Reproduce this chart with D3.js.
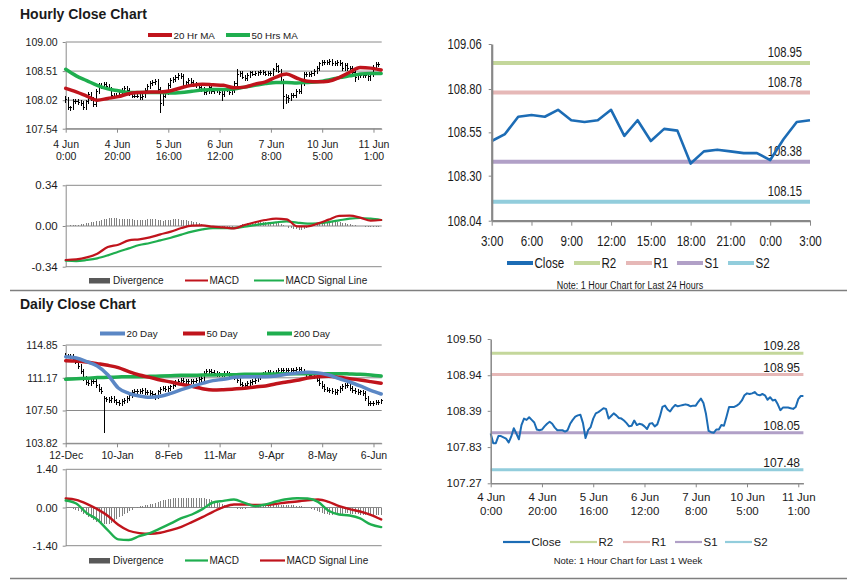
<!DOCTYPE html>
<html><head><meta charset="utf-8">
<script src="https://cdn.jsdelivr.net/npm/d3@7"></script>
<style>
body{margin:0;background:#fff;}
svg{display:block;font-family:"Liberation Sans",Arial,sans-serif;}
</style></head><body>
<svg id="c" width="847" height="583"></svg>
<script>
// ---------------- DATA ----------------
const hourlyTickIdx = [0,20,40,60,80,100,120];
const hourlyTickTop = ["4 Jun","4 Jun","5 Jun","6 Jun","7 Jun","10 Jun","11 Jun"];
const hourlyTickBottom = ["0:00","20:00","16:00","12:00","8:00","5:00","1:00"];
const hourlyYTicks = [107.54,108.02,108.51,109.00];
const hourlyMacdTicks = [-0.34,0.00,0.34];

const hourlyClose = [108.04,107.89,107.89,108.00,108.00,107.98,107.96,107.90,107.99,108.12,
108.04,107.95,108.17,108.27,108.25,108.29,108.25,108.21,108.10,108.09,
108.10,108.15,108.19,108.22,108.19,108.13,108.09,108.09,108.09,108.07,
108.09,108.19,108.25,108.30,108.32,108.33,108.20,107.97,108.09,108.14,
108.27,108.35,108.37,108.40,108.43,108.42,108.27,108.31,108.35,108.32,
108.28,108.27,108.24,108.20,108.15,108.16,108.24,108.17,108.19,108.18,
108.15,108.11,108.19,108.20,108.15,108.18,108.30,108.45,108.47,108.41,
108.38,108.44,108.48,108.46,108.47,108.48,108.49,108.48,108.46,108.47,
108.47,108.53,108.58,108.51,108.34,108.08,108.06,108.05,108.10,108.10,
108.17,108.16,108.30,108.45,108.45,108.45,108.47,108.50,108.55,108.63,
108.66,108.65,108.66,108.68,108.64,108.63,108.65,108.63,108.56,108.60,
108.55,108.56,108.49,108.40,108.44,108.44,108.44,108.43,108.42,108.45,
108.57,108.62,108.62];
const hourlyHigh = [108.09,108.08,107.93,108.04,108.04,108.04,108.02,108.00,108.03,108.16,
108.16,108.08,108.21,108.31,108.31,108.33,108.33,108.29,108.25,108.14,
108.14,108.19,108.23,108.26,108.26,108.23,108.17,108.13,108.13,108.13,
108.13,108.23,108.29,108.34,108.36,108.37,108.37,108.24,108.13,108.18,
108.31,108.39,108.41,108.44,108.47,108.47,108.46,108.35,108.39,108.39,
108.36,108.32,108.31,108.28,108.24,108.20,108.28,108.28,108.23,108.23,
108.22,108.19,108.23,108.24,108.24,108.22,108.34,108.55,108.51,108.51,
108.45,108.48,108.52,108.52,108.51,108.52,108.53,108.53,108.52,108.51,
108.51,108.57,108.64,108.62,108.55,108.38,108.12,108.10,108.14,108.14,
108.21,108.21,108.34,108.49,108.49,108.49,108.51,108.54,108.59,108.67,
108.70,108.70,108.70,108.72,108.72,108.68,108.69,108.69,108.67,108.64,
108.64,108.60,108.60,108.53,108.48,108.48,108.48,108.48,108.47,108.49,
108.61,108.66,108.66];
const hourlyLow = [107.98,107.85,107.84,107.85,107.96,107.94,107.92,107.85,107.86,107.95,
108.00,107.91,107.91,108.13,108.21,108.21,108.21,108.17,108.06,108.05,
108.05,108.06,108.11,108.15,108.15,108.09,108.05,108.05,108.05,108.03,
108.03,108.05,108.15,108.21,108.26,108.28,108.16,107.80,107.93,108.05,
108.10,108.23,108.31,108.33,108.36,108.38,108.23,108.23,108.27,108.28,
108.24,108.23,108.20,108.16,108.11,108.11,108.12,108.13,108.13,108.14,
108.11,108.00,108.07,108.15,108.11,108.11,108.14,108.26,108.41,108.37,
108.34,108.34,108.40,108.42,108.42,108.43,108.44,108.44,108.42,108.42,
108.43,108.43,108.49,108.47,108.30,107.88,107.96,107.98,108.01,108.06,
108.06,108.12,108.12,108.26,108.41,108.41,108.41,108.43,108.46,108.51,
108.59,108.61,108.61,108.62,108.60,108.59,108.59,108.59,108.52,108.52,
108.51,108.51,108.45,108.33,108.36,108.40,108.40,108.39,108.34,108.35,
108.41,108.53,108.58];
// moving averages / MACD sampled every 4.1 bars
const hourlyMA20 = [108.22,108.16,108.09,108.02,108.05,108.08,108.13,108.15,108.16,108.16,108.18,108.23,108.27,108.29,108.28,108.27,108.23,108.24,108.29,108.33,108.41,108.46,108.39,108.34,108.33,108.34,108.40,108.49,108.57,108.56,108.53];
const hourlyMA50 = [108.54,108.43,108.35,108.27,108.21,108.18,108.15,108.15,108.15,108.15,108.14,108.15,108.17,108.19,108.20,108.20,108.21,108.24,108.27,108.30,108.32,108.32,108.31,108.32,108.33,108.36,108.40,108.43,108.46,108.47,108.47];
const hourlyMACD = [-0.284,-0.279,-0.262,-0.231,-0.176,-0.156,-0.120,-0.111,-0.095,-0.070,-0.047,-0.017,0.003,0.006,-0.006,-0.011,-0.020,0.008,0.031,0.050,0.061,0.056,-0.003,-0.003,0.022,0.053,0.084,0.086,0.070,0.045,0.050];
const hourlySignal = [-0.290,-0.293,-0.284,-0.270,-0.245,-0.215,-0.187,-0.159,-0.142,-0.120,-0.098,-0.072,-0.047,-0.028,-0.017,-0.017,-0.017,-0.006,0.008,0.020,0.031,0.039,0.028,0.020,0.022,0.033,0.047,0.061,0.067,0.061,0.050];
const hourlyDivergence = [0.000,0.003,0.005,0.006,0.008,0.010,
0.014,0.018,0.022,0.026,0.030, 0.035,0.040,0.045,0.050,0.055, 0.060,0.063,0.064,0.064,0.063,
0.062,0.062,0.061,0.060,0.058, 0.056,0.054,0.052,0.050,0.048, 0.050,0.055,0.058,0.058,0.055,
0.050,0.046,0.045,0.047,0.050, 0.052,0.055,0.056,0.055,0.052, 0.050,0.046,0.042,0.038,0.034,
0.030,0.025,0.018,0.012,0.006, 0.002,0.000,-0.002,-0.004,-0.006, -0.008,-0.010,-0.012,-0.010,-0.006,
-0.002,0.004,0.010,0.016,0.020, 0.024,0.026,0.028,0.030,0.032, 0.034,0.036,0.036,0.035,0.033,
0.032,0.030,0.026,0.018,0.008, -0.004,-0.014,-0.020,-0.026,-0.028, -0.030,-0.030,-0.026,-0.018,-0.008,
0.002,0.010,0.016,0.022,0.026, 0.030,0.032,0.034,0.034,0.033, 0.032,0.030,0.028,0.024,0.020,
0.016,0.012,0.008,0.004,0.000, -0.004,-0.008,-0.010,-0.012,-0.012, -0.010,-0.008];

const dayTickLabels = ["3:00","6:00","9:00","12:00","15:00","18:00","21:00","0:00","3:00"];
const dayYTicks = [108.04,108.30,108.55,108.80,109.06];
const dayClose = [108.50,108.54,108.64,108.65,108.64,108.68,108.62,108.61,108.62,108.68,108.53,108.62,108.50,108.57,108.56,108.37,108.44,108.45,108.44,108.43,108.43,108.39,108.51,108.61,108.62];
const dayLevelNames = ["R2","R1","S1","S2"];
const dayLevels = [108.95,108.78,108.38,108.15];

const weekTickTop = ["4 Jun","4 Jun","5 Jun","6 Jun","7 Jun","10 Jun","11 Jun"];
const weekTickBottom = ["0:00","20:00","16:00","12:00","8:00","5:00","1:00"];
const weekYTicks = [107.27,107.83,108.39,108.94,109.50];
const weekLevels = [109.28,108.95,108.05,107.48];

const dailyTickIdx = [0,20,40,60,80,100,120];
const dailyTickLabels = ["12-Dec","10-Jan","8-Feb","11-Mar","9-Apr","8-May","6-Jun"];
const dailyYTicks = [103.82,107.50,111.17,114.85];
const dailyMacdTicks = [-1.40,0.00,1.40];
const dailyClose = [113.61,113.61,113.54,113.24,112.94,112.42,111.86,111.11,110.62,110.55,
110.74,110.74,110.25,109.88,109.61,108.80,108.75,108.60,108.87,108.57,
108.38,108.31,108.49,108.64,108.83,109.13,109.50,109.61,109.61,109.65,
109.73,109.50,109.54,109.43,109.24,109.05,109.58,109.91,109.95,109.88,
109.99,110.14,110.36,110.66,110.77,110.85,110.81,110.74,110.74,110.74,
110.81,110.88,110.96,111.11,111.67,111.86,111.86,111.78,111.67,111.56,
111.48,111.48,111.67,111.60,111.48,111.37,111.22,110.85,110.47,110.32,
110.36,110.55,110.62,110.77,110.92,111.22,111.41,111.52,111.67,111.75,
111.67,111.56,111.75,111.97,112.04,112.04,112.01,111.97,112.04,112.04,
112.08,112.12,111.90,111.71,111.52,111.45,111.37,111.30,110.92,110.55,
110.17,109.88,109.80,109.73,109.61,109.54,109.69,109.95,110.17,110.36,
110.25,109.95,109.73,109.61,109.54,109.58,109.43,108.87,108.31,108.31,
108.34,108.38,108.45,108.57];
const dailyHigh = [113.90,113.86,113.86,113.79,113.49,113.19,112.67,112.11,111.36,110.87,
110.99,110.99,110.99,110.50,110.13,109.10,109.05,109.00,109.12,109.12,
108.82,108.63,108.74,108.89,109.08,109.38,109.75,109.86,109.86,109.90,
109.98,109.98,109.79,109.79,109.68,109.49,109.83,110.16,110.20,110.20,
110.24,110.39,110.61,110.91,111.02,111.10,111.10,111.06,110.99,110.99,
111.06,111.13,111.21,111.36,111.92,112.11,112.11,112.11,112.03,111.92,
111.81,111.73,111.92,111.92,111.85,111.73,111.62,111.47,111.10,110.72,
110.61,110.80,110.87,111.02,111.17,111.47,111.66,111.77,111.92,112.00,
112.00,111.92,112.00,112.22,112.29,112.29,112.29,112.26,112.29,112.29,
112.33,112.37,112.37,112.15,111.96,111.77,111.70,111.62,111.55,111.17,
110.80,110.42,110.13,110.05,109.98,109.86,109.94,110.20,110.42,110.61,
110.61,110.50,110.20,109.98,109.86,109.83,109.83,109.68,109.12,108.56,
108.59,108.63,108.70,108.82];
const dailyLow = [113.35,113.36,113.29,112.99,112.69,112.17,111.61,110.86,110.37,110.30,
110.30,110.49,110.00,109.63,109.36,104.94,108.50,108.35,108.35,108.32,
108.13,108.06,108.06,108.24,108.39,108.58,108.88,109.25,109.36,109.36,
109.40,109.25,109.25,109.18,108.99,108.68,108.80,109.33,109.66,109.63,
109.63,109.74,109.89,110.11,110.41,110.52,110.56,110.49,110.49,110.49,
110.49,110.56,110.63,110.71,110.86,111.42,111.61,111.53,111.42,111.31,
111.23,111.23,111.23,111.35,111.23,111.12,110.97,110.60,110.22,110.07,
110.07,110.11,110.30,110.37,110.52,110.67,110.97,111.16,111.27,111.42,
111.42,111.31,111.31,111.50,111.72,111.79,111.76,111.72,111.72,111.79,
111.79,111.83,111.65,111.46,111.27,111.20,111.12,111.05,110.67,110.30,
109.92,109.63,109.55,109.48,109.36,109.29,109.29,109.44,109.70,109.92,
110.00,109.70,109.48,109.36,109.29,109.29,109.18,108.62,108.06,108.06,
108.06,108.09,108.13,108.20];
const dailyMA20 = [113.54,113.39,112.98,112.49,111.52,110.03,109.43,109.13,108.98,109.09,109.43,109.84,110.21,110.55,110.85,111.00,111.22,111.30,111.30,111.30,111.37,111.56,111.71,111.78,111.71,111.48,111.07,110.70,110.25,109.76,109.35];
const dailyMA50 = [113.09,113.05,112.94,112.76,112.57,112.31,111.86,111.48,111.22,110.92,110.70,110.44,110.21,109.95,109.80,109.84,109.91,109.99,110.14,110.25,110.51,110.70,110.89,111.15,111.30,111.33,111.22,111.07,110.92,110.74,110.55];
const dailyMA200 = [111.00,111.07,111.11,111.19,111.22,111.26,111.30,111.30,111.33,111.37,111.41,111.45,111.45,111.48,111.48,111.52,111.52,111.56,111.56,111.60,111.60,111.63,111.63,111.63,111.63,111.63,111.63,111.60,111.56,111.48,111.37];
const dailyMACD = [0.256,0.146,-0.207,-0.438,-0.828,-1.168,-1.193,-1.047,-0.937,-0.767,-0.584,-0.390,-0.256,-0.061,0.183,0.243,0.292,0.170,0.049,0.110,0.219,0.304,0.341,0.329,0.207,-0.122,-0.256,-0.292,-0.402,-0.621,-0.718];
const dailySignal = [0.329,0.280,0.134,-0.061,-0.304,-0.633,-0.852,-0.937,-0.961,-0.925,-0.828,-0.706,-0.535,-0.353,-0.158,0.012,0.110,0.110,0.097,0.097,0.134,0.183,0.219,0.268,0.292,0.207,0.049,-0.061,-0.146,-0.268,-0.438];
const dailyDivergence = [0.00,-0.01,-0.02,-0.04,
-0.08,-0.13,-0.18,-0.24,-0.29, -0.34,-0.40,-0.46,-0.52,-0.57, -0.60,-0.62,-0.62,-0.60,-0.55,
-0.48,-0.42,-0.36,-0.30,-0.25, -0.20,-0.14,-0.08,-0.03,0.01, 0.04,0.06,0.08,0.10,0.12,
0.14,0.17,0.20,0.23,0.26, 0.28,0.30,0.32,0.33,0.34, 0.35,0.35,0.35,0.35,0.34,
0.34,0.34,0.35,0.36,0.35, 0.34,0.32,0.30,0.27,0.24, 0.20,0.16,0.12,0.08,0.04,
0.02,0.00,-0.02,-0.04,-0.05, -0.05,-0.04,-0.03,-0.02,0.00, 0.02,0.04,0.05,0.06,0.07,
0.08,0.09,0.10,0.10,0.10, 0.10,0.10,0.10,0.10,0.09, 0.08,0.07,0.06,0.04,0.02,
0.00,-0.02,-0.05,-0.08,-0.12, -0.16,-0.20,-0.23,-0.25,-0.26, -0.26,-0.25,-0.24,-0.23,-0.22,
-0.21,-0.21,-0.22,-0.23,-0.24, -0.25,-0.26,-0.27,-0.28,-0.28, -0.28,-0.28,-0.28,-0.28,-0.28];

const MA_STEP = 4.1;

// ---------------- STYLE ----------------
const TXT = "#1a1a1a", GRID = "#8a8a8a";
const RED = "#c0141c", GREEN = "#1fae4f", BLUE20 = "#5b87c5", CLOSE = "#1c6cb5", DIV = "#808080";
const LEVEL_COLORS = ["#c4d79b","#e6b8b7","#b1a0c7","#92cddc"];
const NARROW_SCALE = 0.8;

const svg = d3.select("#c");

function text(x, y, s, o = {}) {
  const t = svg.append("text").text(s)
    .attr("fill", o.fill || TXT).attr("font-size", o.fs || 10.5)
    .attr("font-weight", o.fw || null).attr("text-anchor", o.anchor || "start");
  if (o.narrow) t.attr("transform", `translate(${x},${y}) scale(${o.narrow},1)`);
  else t.attr("x", x).attr("y", y);
  return t;
}
function hline(x1, x2, y, color, w) {
  svg.append("line").attr("x1", x1).attr("x2", x2).attr("y1", y).attr("y2", y)
    .attr("stroke", color).attr("stroke-width", w);
}
function legendLine(x1, x2, y, color, w, label, o = {}) {
  hline(x1, x2, y, color, w);
  text(x2 + 1.5, y + (o.dy || 3.5), label, o);
}
function leftAxis(x0, y, ticks, o) {
  const g = svg.append("g").attr("transform", `translate(${x0},0)`)
    .call(d3.axisLeft(y).tickValues(ticks).tickFormat(d => d.toFixed(2))
      .tickSize(o.tick).tickSizeOuter(0).tickPadding(o.pad));
  g.attr("font-family", null).attr("font-size", o.fs);
  g.select(".domain").attr("stroke", o.color || GRID).attr("stroke-width", o.w || 1);
  g.selectAll(".tick line").attr("stroke", o.color || GRID);
  const tx = g.selectAll(".tick text").attr("fill", TXT);
  if (o.narrow) tx.attr("x", -(o.tick + o.pad) / o.narrow).attr("transform", `scale(${o.narrow},1)`);
  return g;
}
function bottomAxis(x, y0, idx, lines, o) {
  const g = svg.append("g").attr("transform", `translate(0,${y0})`)
    .call(d3.axisBottom(x).tickValues(idx).tickFormat("").tickSize(o.tick).tickSizeOuter(0));
  g.attr("font-family", null).attr("font-size", o.fs);
  g.select(".domain").attr("stroke", o.color || GRID).attr("stroke-width", o.w || 1);
  g.selectAll(".tick line").attr("stroke", o.color || GRID);
  g.selectAll(".tick").each(function (d, i) {
    const t = d3.select(this).append("text").attr("fill", TXT).attr("text-anchor", "middle");
    if (o.narrow) t.attr("transform", `scale(${o.narrow},1)`);
    lines.forEach((arr, j) => t.append("tspan").attr("x", 0).attr("y", o.dy + j * o.lh).text(arr[i]));
  });
}
function grid(x1, x2, y, ticks) {
  svg.append("g").selectAll("line").data(ticks).join("line")
    .attr("x1", x1).attr("x2", x2).attr("y1", d => y(d)).attr("y2", d => y(d))
    .attr("stroke", GRID).attr("stroke-width", 1);
}
function ohlc(x, y, hi, lo, cl) {
  const g = svg.append("g").attr("stroke", "#000").attr("stroke-width", 1).attr("shape-rendering", "crispEdges");
  g.selectAll("line.v").data(cl).join("line").attr("class", "v")
    .attr("x1", (d, i) => x(i)).attr("x2", (d, i) => x(i))
    .attr("y1", (d, i) => y(hi[i])).attr("y2", (d, i) => y(lo[i]));
  g.selectAll("line.c").data(cl).join("line").attr("class", "c")
    .attr("x1", (d, i) => x(i)).attr("x2", (d, i) => x(i) + 1.6)
    .attr("y1", d => y(d)).attr("y2", d => y(d));
}
function maLine(x, y, arr, color, w) {
  svg.append("path").datum(arr)
    .attr("d", d3.line().x((d, i) => x(i * MA_STEP)).y(d => y(d)).curve(d3.curveMonotoneX))
    .attr("fill", "none").attr("stroke", color).attr("stroke-width", w)
    .attr("stroke-linejoin", "round").attr("stroke-linecap", "round");
}
function divBars(x, y, arr) {
  svg.append("g").selectAll("line").data(arr).join("line")
    .attr("x1", (d, i) => x(i)).attr("x2", (d, i) => x(i))
    .attr("y1", y(0)).attr("y2", d => y(d))
    .attr("stroke", DIV).attr("stroke-width", 1).attr("shape-rendering", "crispEdges");
}

// ---------------- SECTION DIVIDERS & TITLES ----------------
hline(10, 847, 290.5, "#7f7f7f", 1.5);
hline(10, 847, 578.5, "#7f7f7f", 1.5);
text(20, 18.5, "Hourly Close Chart", { fs: 14, fw: "bold" });
text(20, 309, "Daily Close Chart", { fs: 14, fw: "bold" });

// ---------------- HOURLY PRICE (top-left) ----------------
const xH = d3.scaleLinear().domain([0, 123.2]).range([65.7, 381.7]);
const yH = d3.scaleLinear().domain([107.54, 109.00]).range([128.7, 42]);
grid(65.7, 381.7, yH, hourlyYTicks);
leftAxis(65.7, yH, hourlyYTicks, { tick: 3, pad: 5, fs: 10.5 });
bottomAxis(xH, 128.7, hourlyTickIdx, [hourlyTickTop, hourlyTickBottom], { tick: 4, fs: 10.5, dy: 19.5, lh: 11.5 });
ohlc(xH, yH, hourlyHigh, hourlyLow, hourlyClose);
maLine(xH, yH, hourlyMA50, GREEN, 3.5);
maLine(xH, yH, hourlyMA20, RED, 3.5);
legendLine(148, 172, 35, RED, 4, "20 Hr MA", { fs: 9.8 });
legendLine(226, 250, 35, GREEN, 4, "50 Hrs MA", { fs: 9.8 });

// ---------------- HOURLY MACD ----------------
const yHM = d3.scaleLinear().domain([-0.34, 0.34]).range([266.7, 185.3]);
grid(65.7, 381.7, yHM, hourlyMacdTicks);
leftAxis(65.7, yHM, hourlyMacdTicks, { tick: 3, pad: 5, fs: 11.5 });
divBars(xH, yHM, hourlyDivergence);
maLine(xH, yHM, hourlySignal, GREEN, 2.2);
maLine(xH, yHM, hourlyMACD, RED, 2.2);
svg.append("rect").attr("x", 89).attr("y", 278).attr("width", 21).attr("height", 5.5).attr("fill", "#595959");
text(113, 283.5, "Divergence", { fs: 10 });
legendLine(185, 208, 280.5, RED, 2, "MACD", { fs: 10 });
legendLine(254, 284, 280.5, GREEN, 2, "MACD Signal Line", { fs: 10 });

// ---------------- LAST 24 HOURS (top-right) ----------------
const xD = d3.scaleLinear().domain([0, 24]).range([491.7, 810]);
const yD = d3.scaleLinear().domain([108.04, 109.06]).range([220.7, 44]);
dayLevels.forEach((v, i) => {
  hline(491.7, 810, yD(v), LEVEL_COLORS[i], 4);
  text(802, yD(v) - 6, v.toFixed(2), { fs: 14, anchor: "end", narrow: NARROW_SCALE });
});
svg.append("path").datum(dayClose)
  .attr("d", d3.line().x((d, i) => xD(i)).y(d => yD(d)))
  .attr("fill", "none").attr("stroke", CLOSE).attr("stroke-width", 2.6).attr("stroke-linejoin", "round");
leftAxis(491.7, yD, dayYTicks, { tick: 3, pad: 7, fs: 14, narrow: NARROW_SCALE, w: 2.2, color: "#888" });
bottomAxis(xD, 220.7, d3.range(0, 25, 3), [dayTickLabels], { tick: 5, fs: 14.5, narrow: NARROW_SCALE, dy: 25.5, lh: 0, w: 2.2, color: "#888" });
{
  const items = [["Close", CLOSE, 507], ["R2", LEVEL_COLORS[0], 574], ["R1", LEVEL_COLORS[1], 626], ["S1", LEVEL_COLORS[2], 677], ["S2", LEVEL_COLORS[3], 728]];
  items.forEach(([n, c, x]) => legendLine(x, x + 26, 263, c, 4, n, { fs: 14.5, narrow: NARROW_SCALE, dy: 5 }));
}
text(630, 289, "Note: 1 Hour Chart for Last 24 Hours", { fs: 11.5, anchor: "middle", narrow: 0.78 });

// ---------------- DAILY PRICE (bottom-left) ----------------
const xDa = d3.scaleLinear().domain([0, 123.2]).range([65.7, 381.7]);
const yDa = d3.scaleLinear().domain([103.82, 114.85]).range([443.3, 345]);
grid(65.7, 381.7, yDa, dailyYTicks);
leftAxis(65.7, yDa, dailyYTicks, { tick: 3, pad: 5, fs: 10.5 });
bottomAxis(xDa, 443.3, dailyTickIdx, [dailyTickLabels], { tick: 4, fs: 10.5, dy: 15.5, lh: 0 });
ohlc(xDa, yDa, dailyHigh, dailyLow, dailyClose);
maLine(xDa, yDa, dailyMA200, GREEN, 3.5);
maLine(xDa, yDa, dailyMA50, RED, 3.5);
maLine(xDa, yDa, dailyMA20, BLUE20, 3.5);
legendLine(100, 125, 333.5, BLUE20, 4, "20 Day", { fs: 9.8 });
legendLine(183, 205, 333.5, RED, 4, "50 Day", { fs: 9.8 });
legendLine(267, 292, 333.5, GREEN, 4, "200 Day", { fs: 9.8 });

// ---------------- DAILY MACD ----------------
const yDM = d3.scaleLinear().domain([-1.40, 1.40]).range([545.7, 469.3]);
grid(65.7, 381.7, yDM, dailyMacdTicks);
leftAxis(65.7, yDM, dailyMacdTicks, { tick: 3, pad: 5, fs: 11 });
divBars(xDa, yDM, dailyDivergence);
maLine(xDa, yDM, dailySignal, RED, 2.4);
maLine(xDa, yDM, dailyMACD, GREEN, 2.4);
svg.append("rect").attr("x", 89).attr("y", 558).attr("width", 21).attr("height", 5.5).attr("fill", "#595959");
text(113, 563.5, "Divergence", { fs: 10 });
legendLine(185, 208, 560.5, GREEN, 2.2, "MACD", { fs: 10 });
legendLine(260, 285, 560.5, RED, 2.2, "MACD Signal Line", { fs: 10 });

// ---------------- LAST WEEK (bottom-right) ----------------
const xW = d3.scaleLinear().domain([0, 122]).range([490.7, 803.4]);
const yW = d3.scaleLinear().domain([107.27, 109.50]).range([483.3, 339]);
weekLevels.forEach((v, i) => {
  hline(490.7, 803.4, yW(v), LEVEL_COLORS[i], 3);
  text(800, yW(v) - 3, v.toFixed(2), { fs: 12, anchor: "end" });
});
svg.append("path").datum(hourlyClose)
  .attr("d", d3.line().x((d, i) => xW(i)).y(d => yW(d)))
  .attr("fill", "none").attr("stroke", CLOSE).attr("stroke-width", 2).attr("stroke-linejoin", "round");
leftAxis(490.7, yW, weekYTicks, { tick: 3, pad: 6, fs: 11.5, w: 1.5, color: "#888" });
bottomAxis(xW, 483.3, hourlyTickIdx, [weekTickTop, weekTickBottom], { tick: 4, fs: 11.5, dy: 18, lh: 13.5, w: 1.5, color: "#888" });
{
  const items = [["Close", CLOSE, 503], ["R2", LEVEL_COLORS[0], 570], ["R1", LEVEL_COLORS[1], 623], ["S1", LEVEL_COLORS[2], 675], ["S2", LEVEL_COLORS[3], 725]];
  items.forEach(([n, c, x]) => legendLine(x, x + 27, 542, c, 2.2, n, { fs: 11.5 }));
}
text(628, 564, "Note: 1 Hour Chart for Last 1 Week", { fs: 9.5, anchor: "middle" });
</script>
</body></html>
